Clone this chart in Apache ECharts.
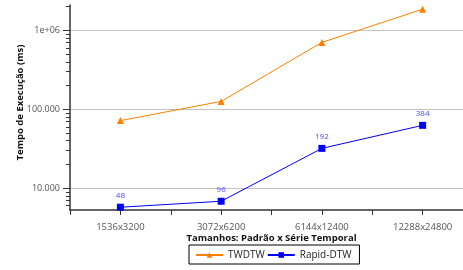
<!DOCTYPE html>
<html>
<head>
<meta charset="utf-8">
<script src="https://cdn.jsdelivr.net/npm/echarts@6/dist/echarts.min.js"></script>
<style>
html,body{margin:0;padding:0;background:#fff;}
#main{width:463px;height:270px;}
</style>
</head>
<body>
<div id="main"></div>
<script>
var categorias = ['1536x3200', '3072x6200', '6144x12400', '12288x24800'];
var twdtw = [72000, 126000, 705000, 1860000];
var rapidDtw = [5750, 6840, 32000, 62700];
var rotulosRapid = ['48', '96', '192', '384'];
var yMajor = [10000, 100000, 1000000];
var yMinor = [6000, 7000, 8000, 9000, 20000, 30000, 40000, 50000, 60000, 70000, 80000, 90000,
  200000, 300000, 400000, 500000, 600000, 700000, 800000, 900000, 2000000];

var fonte = 'Open Sans';
var myChart = echarts.init(document.getElementById('main'));

function pares(arr) {
  var temp = [];
  for (var i = 0; i < arr.length; i++) temp.push([i, arr[i]]);
  return temp;
}

function fmtY(v) {
  if (v >= 1000000) return '1e+06';
  return String(v).replace(/\B(?=(\d{3})+(?!\d))/g, '.');
}

var option = {
  animation: false,
  backgroundColor: '#fff',
  grid: { left: 70, top: 5, right: -10, bottom: 60, outerBoundsMode: 'none', containLabel: false },
  legend: {
    left: 189, top: 245,
    padding: [5, 8, 4, 6],
    itemGap: 2,
    itemWidth: 27, itemHeight: 7,
    borderColor: '#000', borderWidth: 1,
    textStyle: { fontFamily: fonte, fontSize: 10, color: '#222' },
    data: ['TWDTW', 'Rapid-DTW']
  },
  xAxis: {
    type: 'value',
    min: -0.5, max: 3.5, interval: 0.5,
    name: 'Tamanhos: Padrão x Série Temporal',
    nameLocation: 'middle', nameGap: 23, nameMoveOverlap: false,
    nameTextStyle: { fontFamily: fonte, fontSize: 9.5, fontWeight: 'bold', color: '#111' },
    axisLine: { onZero: false, lineStyle: { color: '#333', width: 1.5 } },
    axisTick: { length: 5, lineStyle: { color: '#333' } },
    splitLine: { show: false },
    axisLabel: {
      margin: 12, fontFamily: fonte, fontSize: 9.5, color: '#555',
      formatter: function (v) { return Number.isInteger(v) ? categorias[v] : ''; }
    }
  },
  yAxis: [{
    type: 'log', logBase: 10, min: 5300, max: 2100000, position: 'left',
    name: 'Tempo de Execução (ms)',
    nameLocation: 'middle', nameGap: 45, nameMoveOverlap: false,
    nameTextStyle: { fontFamily: fonte, fontSize: 9.5, fontWeight: 'bold', color: '#111', padding: [0, 0, 0, 10] },
    axisLine: { show: true, onZero: false, lineStyle: { color: '#333', width: 1.5 } },
    axisTick: { show: true, length: 7, customValues: yMajor, lineStyle: { color: '#333' } },
    axisLabel: { margin: 10, customValues: yMajor, fontFamily: fonte, fontSize: 9, color: '#555', formatter: fmtY },
    splitLine: { show: true, lineStyle: { color: '#c4c4c4', width: 1 } }
  }, {
    type: 'log', logBase: 10, min: 5300, max: 2100000, position: 'left',
    axisLine: { show: false, onZero: false },
    axisTick: { show: true, length: 4, customValues: yMinor, lineStyle: { color: '#333' } },
    axisLabel: { show: false },
    splitLine: { show: false }
  }],
  series: [{
    name: 'TWDTW',
    type: 'line',
    yAxisIndex: 0,
    data: pares(twdtw),
    color: '#ff8000',
    symbol: 'triangle', symbolSize: 7,
    lineStyle: { width: 1 }
  }, {
    name: 'Rapid-DTW',
    type: 'line',
    yAxisIndex: 0,
    data: pares(rapidDtw),
    color: '#0000ff',
    symbol: 'rect', symbolSize: 7,
    lineStyle: { width: 1 },
    label: {
      show: true, position: 'top', distance: 4,
      fontFamily: fonte, fontSize: 8, color: '#4a4aff',
      formatter: function (p) { return rotulosRapid[p.dataIndex]; }
    }
  }]
};

myChart.setOption(option);
</script>
</body>
</html>
